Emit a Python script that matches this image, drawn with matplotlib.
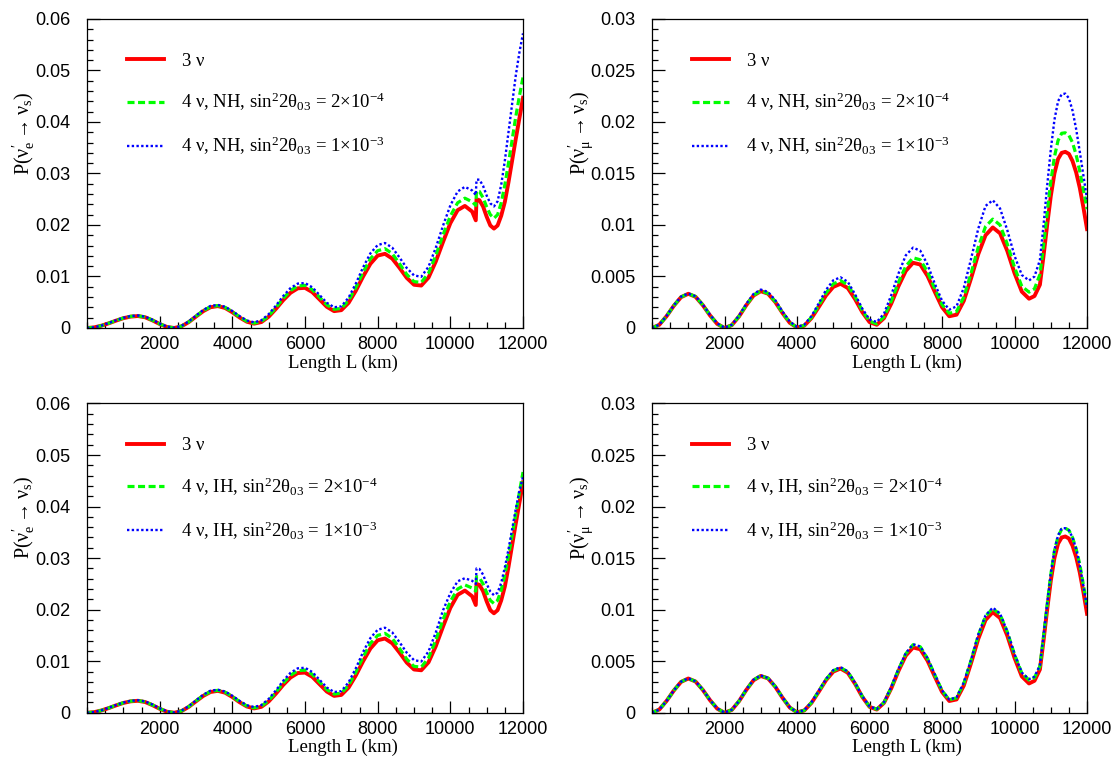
import matplotlib
matplotlib.use("Agg")
import matplotlib.pyplot as plt
from matplotlib.ticker import MultipleLocator, FuncFormatter

# distance grids (km)
L_e = [0, 200, 400, 600, 800, 1000, 1200, 1400, 1600, 1800, 2000, 2200, 2400, 2600, 2800,
       3000, 3200, 3400, 3600, 3800, 4000, 4200, 4400, 4600, 4800, 5000, 5200, 5400, 5600,
       5800, 6000, 6200, 6400, 6600, 6800, 7000, 7200, 7400, 7600, 7800, 8000, 8200, 8400,
       8600, 8800, 9000, 9200, 9400, 9600, 9800, 10000, 10200, 10400, 10600, 10700, 10720,
       10800, 10900, 11000, 11100, 11200, 11300, 11400, 11500, 11600, 11700, 11800, 11900, 12000]

L_mu = [0, 200, 400, 600, 800, 1000, 1200, 1400, 1600, 1800, 2000, 2200, 2400, 2600, 2800,
        3000, 3200, 3400, 3600, 3800, 4000, 4200, 4400, 4600, 4800, 5000, 5200, 5400, 5600,
        5800, 6000, 6200, 6400, 6600, 6800, 7000, 7200, 7400, 7600, 7800, 8000, 8200, 8400,
        8600, 8800, 9000, 9200, 9400, 9600, 9800, 10000, 10200, 10400, 10550, 10700, 10800,
        10900, 11000, 11100, 11200, 11300, 11400, 11500, 11600, 11700, 11800, 11900, 12000]

# P(nu_e -> nu_s)
e_3nu = [0, .00012, .00045, .00091, .00143, .0019, .00221, .00232, .00208, .00148, .00077, .0002,
         0, .00032, .00114, .00222, .00327, .00403, .00425, .00389, .00305, .00204, .00121, .00084,
         .00115, .00219, .00372, .0054, .00683, .0077, .00779, .00697, .00554, .00411, .00327,
         .00346, .00489, .00725, .01001, .01247, .01406, .0144, .01348, .01168, .00973, .00839,
         .00824, .0098, .01293, .01674, .02035, .02287, .0237, .0226, .0209, .025, .0248, .0236,
         .0216, .0199, .0193, .0199, .0218, .0245, .0283, .0325, .0367, .0407, .0447]
e_nh_2e4 = [0, .00012, .00046, .00093, .00146, .00193, .00225, .00236, .00212, .00152, .0008, .00022,
            .00001, .00035, .00119, .00229, .00336, .00413, .00435, .004, .00316, .00215, .00131,
            .00094, .00128, .00238, .00398, .00575, .00727, .00816, .00828, .00745, .00598, .0045,
            .00363, .0038, .00535, .0079, .01085, .01345, .015, .0154, .01445, .0125, .0104, .009,
            .00885, .01065, .0141, .0181, .02175, .0243, .0252, .0245, .0238, .0266, .0265, .0253,
            .0235, .022, .0213, .022, .0243, .0278, .032, .0365, .041, .045, .0487]
e_nh_1e3 = [0, .00013, .00048, .00096, .0015, .00198, .00231, .00242, .0022, .0016, .00087, .00027,
            .00004, .0004, .00127, .0024, .0035, .00428, .00447, .00412, .0033, .0023, .00146,
            .0011, .0015, .00268, .00435, .0062, .00775, .00862, .00873, .0079, .0064, .0049,
            .00402, .0042, .0059, .00865, .0118, .0145, .0161, .0165, .0156, .0137, .01165, .0102,
            .00995, .0119, .0156, .0199, .0238, .0265, .0274, .0267, .0258, .0288, .0288, .0276,
            .0257, .0242, .0236, .0246, .0278, .0325, .038, .0435, .049, .0535, .0572]
e_ih_2e4 = [0, .00012, .00046, .00093, .00146, .00193, .00225, .00236, .00212, .00152, .0008, .00022,
            .00001, .00035, .00119, .00229, .00336, .00413, .00435, .004, .00316, .00215, .00131,
            .00094, .00128, .00238, .00398, .00575, .00727, .00816, .00828, .00745, .00598, .0045,
            .00363, .0038, .00535, .0079, .01085, .01345, .015, .0154, .01445, .0125, .0104, .009,
            .00885, .01065, .0141, .0181, .0216, .024, .0248, .0242, .0236, .0264, .0262, .025,
            .0233, .0218, .0212, .0218, .0238, .0268, .0305, .0345, .0385, .0428, .0467]
e_ih_1e3 = [0, .00013, .00048, .00096, .0015, .00198, .00231, .00242, .0022, .0016, .00087, .00027,
            .00004, .0004, .00127, .0024, .0035, .00428, .00447, .00412, .0033, .0023, .00146,
            .0011, .0015, .00268, .00435, .0062, .00775, .00862, .00873, .0079, .0064, .0049,
            .00402, .0042, .0059, .00865, .0118, .0145, .0161, .0165, .0156, .0137, .01165, .0102,
            .00995, .0119, .0156, .0199, .0232, .0255, .0261, .0256, .025, .028, .0279, .0268,
            .025, .0235, .0228, .0233, .0252, .0282, .0317, .0356, .0395, .043, .0458]

# P(nu_mu -> nu_s)
mu_3nu = [0, .00031, .00114, .00215, .00299, .00332, .00303, .00222, .00122, .00039, 0, .00027,
          .00112, .00221, .00315, .00357, .00333, .00252, .00145, .0005, .00004, .00022, .00096,
          .00204, .00316, .00399, .00429, .00388, .00281, .00154, .00057, .00031, .00096, .00237,
          .00407, .00554, .00633, .00616, .00505, .00351, .00202, .00114, .00129, .00263, .00481,
          .00717, .009, .00976, .00919, .00748, .00532, .00353, .00284, .0031, .0042, .007, .01,
          .0128, .015, .0164, .017, .0171, .0169, .0162, .0151, .0136, .0117, .0096]
mu_nh_2e4 = [0, .00031, .00115, .00216, .00301, .00334, .00305, .00224, .00124, .0004, 0, .00028,
             .00114, .00224, .00318, .0036, .00336, .00256, .00148, .00053, .00005, .00025, .00104,
             .0022, .0034, .00428, .0046, .00418, .00305, .0017, .00067, .0004, .0011, .00262,
             .00445, .006, .00682, .00662, .00545, .00382, .00228, .00142, .0016, .003, .0053,
             .00785, .00985, .01057, .01, .00815, .00588, .00405, .00348, .0038, .0052, .008, .0112,
             .0142, .0166, .0182, .0189, .01895, .0187, .018, .0168, .0152, .0134, .01154]
mu_nh_1e3 = [0, .00032, .00117, .00219, .00304, .00335, .00308, .00228, .00128, .00044, .00002, .00031,
             .0012, .00233, .0033, .00373, .0035, .0027, .0016, .00063, .0001, .00032, .00116,
             .0024, .0037, .00463, .00492, .00448, .00328, .00188, .00082, .00058, .0014, .0032,
             .0053, .00705, .0078, .0075, .00615, .0043, .00265, .00178, .0021, .0039, .0067,
             .00965, .01185, .0124, .0116, .0095, .007, .00515, .00461, .005, .0066, .01, .0138,
             .0173, .0202, .022, .0227, .02275, .0223, .0211, .0193, .0171, .0148, .0125]
mu_ih_2e4 = [0, .00031, .00114, .00215, .003, .00333, .00304, .00223, .00123, .0004, 0, .00028,
             .00113, .00223, .00318, .0036, .00335, .00254, .00147, .00051, .00004, .00023, .00099,
             .00209, .00323, .00408, .00438, .00397, .00288, .00158, .0006, .00034, .001, .00244,
             .0042, .00572, .0066, .0064, .00526, .00368, .00215, .00125, .00145, .00285, .00507,
             .0075, .00937, .0101, .00955, .00785, .00565, .00385, .00317, .0034, .0045, .0074,
             .0105, .0134, .0157, .0171, .0178, .0179, .0177, .017, .0159, .0144, .0124, .0103]
mu_ih_1e3 = [0, .00031, .00114, .00216, .00301, .00334, .00305, .00224, .00124, .00041, .00001, .00029,
             .00114, .00225, .0032, .00362, .00337, .00256, .00149, .00053, .00005, .00025, .00102,
             .00213, .00328, .00413, .00442, .004, .00291, .0016, .00062, .00036, .00104, .0025,
             .00427, .00578, .00664, .00643, .00528, .00371, .00218, .00128, .0015, .00292, .00515,
             .00758, .00944, .0102, .00962, .0079, .0057, .0039, .00326, .0035, .0046, .0075,
             .0106, .0135, .0158, .0172, .0179, .0179, .0177, .017, .0159, .0143, .0123, .0102]

plt.rcParams['font.family'] = 'Liberation Serif'
plt.rcParams['mathtext.fontset'] = 'custom'
plt.rcParams['mathtext.rm'] = 'Liberation Serif'
plt.rcParams['mathtext.it'] = 'Liberation Serif'
plt.rcParams['mathtext.bf'] = 'Liberation Serif:bold'
plt.rcParams['mathtext.fallback'] = 'stix'

RED, GREEN, BLUE = '#ff0000', '#00ff00', '#0000ff'


def fmt(v, pos):
    return '0' if abs(v) < 1e-12 else '%g' % v


def draw_panel(rect, L, p3, p2, p1, hier, flavour, ymax, ymaj, ymin, ylab_x):
    ax = fig.add_axes(rect)
    ax.plot(L, p3, color=RED, lw=2.8, solid_joinstyle='round', label=r'3 $\nu$')
    ax.plot(L, p2, color=GREEN, lw=2.3, linestyle=(0, (2.2, 1.1)),
            label=r'4 $\nu$, %s, sin$^{2}$2$\theta_{03}$ = 2$\times$10$^{-4}$' % hier)
    ax.plot(L, p1, color=BLUE, lw=1.7, linestyle=(0, (1.0, 1.0)),
            label=r'4 $\nu$, %s, sin$^{2}$2$\theta_{03}$ = 1$\times$10$^{-3}$' % hier)
    ax.set_xlim(0, 12000)
    ax.set_ylim(0, ymax)
    ax.set_xticks([2000, 4000, 6000, 8000, 10000, 12000])
    ax.xaxis.set_minor_locator(MultipleLocator(500))
    ax.yaxis.set_major_locator(MultipleLocator(ymaj))
    ax.yaxis.set_minor_locator(MultipleLocator(ymin))
    ax.yaxis.set_major_formatter(FuncFormatter(fmt))
    ax.tick_params(which='both', direction='in', top=False, right=False, width=0.9,
                   labelfontfamily='Liberation Sans', labelsize=13)
    ax.tick_params(which='major', length=9)
    ax.tick_params(which='minor', length=4.5)
    ax.tick_params(axis='y', pad=12)
    ax.tick_params(axis='x', pad=6)
    for s in ax.spines.values():
        s.set_linewidth(0.9)
    ax.set_xlabel('Length L (km)', fontsize=13.5)
    ax.xaxis.set_label_coords(0.587, -0.085)
    ax.set_ylabel(r'P($\nu^{\prime}_{%s}$$\rightarrow$$\nu_{s}$)' % flavour, fontsize=14.5)
    ax.yaxis.set_label_coords(ylab_x, 0.63)
    ax.legend(loc='upper left', bbox_to_anchor=(0.07, 0.922), frameon=False, fontsize=13.5,
              handlelength=2.0, handletextpad=0.9, labelspacing=1.15, borderpad=0)
    return ax


fig = plt.figure(figsize=(11.14, 7.58), dpi=100)

draw_panel([0.0781, 0.5673, 0.3914, 0.4077], L_e, e_3nu, e_nh_2e4, e_nh_1e3,
           'NH', 'e', 0.06, 0.01, 0.002, -0.115)
draw_panel([0.5853, 0.5673, 0.3905, 0.4077], L_mu, mu_3nu, mu_nh_2e4, mu_nh_1e3,
           'NH', r'\mu', 0.03, 0.005, 0.001, -0.132)
draw_panel([0.0781, 0.0597, 0.3914, 0.4080], L_e, e_3nu, e_ih_2e4, e_ih_1e3,
           'IH', 'e', 0.06, 0.01, 0.002, -0.115)
draw_panel([0.5853, 0.0597, 0.3905, 0.4080], L_mu, mu_3nu, mu_ih_2e4, mu_ih_1e3,
           'IH', r'\mu', 0.03, 0.005, 0.001, -0.132)

fig.savefig('out.png', dpi=100)
